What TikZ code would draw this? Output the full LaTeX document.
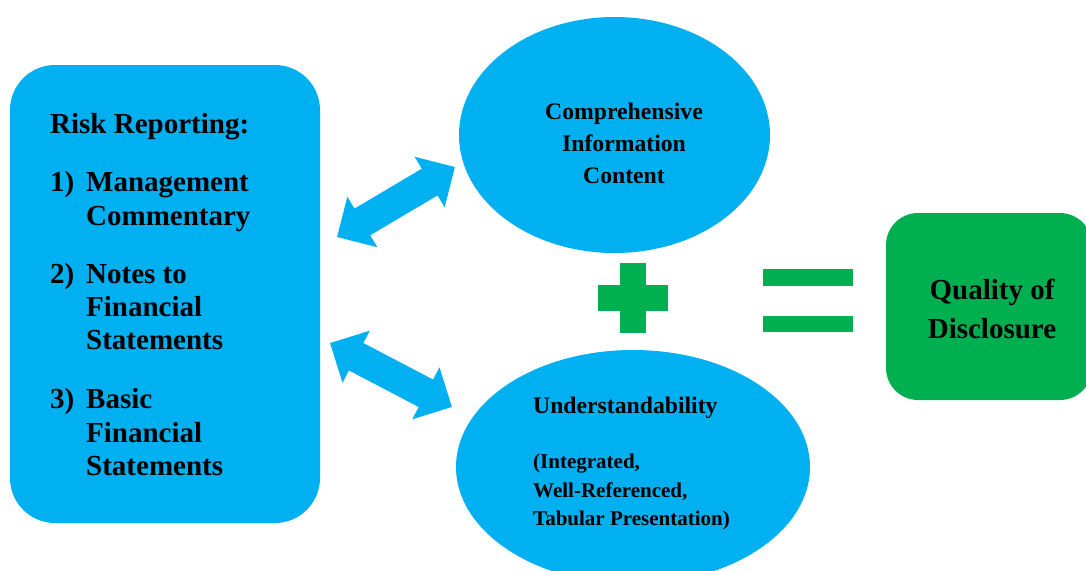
\documentclass[tikz,border=0pt]{standalone}
\usepackage{fontspec}
\setmainfont{Liberation Serif}
\usetikzlibrary{arrows.meta,shapes.geometric}
\definecolor{skyblue}{HTML}{00B0F0}
\definecolor{okgreen}{HTML}{00B050}
\begin{document}
\begin{tikzpicture}[x=1pt,y=-1pt,
  bigtxt/.style={font=\bfseries\fontsize{29}{33}\selectfont, inner sep=0pt, text=black},
  midtxt/.style={font=\bfseries\fontsize{23.7}{32}\selectfont, inner sep=0pt, text=black},
  smalltxt/.style={font=\bfseries\fontsize{21}{29}\selectfont, inner sep=0pt, text=black},
  bluebox/.style={fill=skyblue, draw=none, rounded corners=45pt, inner sep=0pt},
  greenbox/.style={fill=okgreen, draw=none, rounded corners=32pt, inner sep=0pt},
  blueell/.style={fill=skyblue, draw=none, ellipse, inner sep=0pt},
  blockarrow/.style={line width=31pt, draw=skyblue,
    {Triangle[length=29.5pt,width=57pt]}-{Triangle[length=29.5pt,width=57pt]}},
  greenbar/.style={fill=okgreen, draw=none}
]
\useasboundingbox (0,0) rectangle (1086,570);

% shapes
\node[bluebox, minimum width=310pt, minimum height=458pt] (risk) at (165,294) {};
\node[blueell, minimum width=311pt, minimum height=236pt] (comp) at (614.5,135) {};
\node[blueell, minimum width=354pt, minimum height=234pt] (under) at (633,467) {};
\node[greenbox, minimum width=206pt, minimum height=187pt] (qual) at (989,306.5) {};

% plus and equals
\fill[greenbar] (620,263) rectangle (646,333);
\fill[greenbar] (598,285) rectangle (668,311);
\fill[greenbar] (763,269) rectangle (853,286);
\fill[greenbar] (763,316) rectangle (853,332);

% arrows
\coordinate (a1l) at (337,237);
\coordinate (a1r) at (455,167);
\coordinate (a2l) at (330,343);
\coordinate (a2r) at (452,407);
\draw[blockarrow] (a1l) -- (a1r);
\draw[blockarrow] (a2l) -- (a2r);

% left box text
\node[bigtxt, anchor=base west] (t0) at (50,133) {Risk Reporting:};
\node[bigtxt, anchor=base west] (n1) at (50,191) {1)};
\node[bigtxt, anchor=base west] (t1a) at (86,191) {Management};
\node[bigtxt, anchor=base west] (t1b) at (86,225) {Commentary};
\node[bigtxt, anchor=base west] (n2) at (50,283) {2)};
\node[bigtxt, anchor=base west] (t2a) at (86,283) {Notes to};
\node[bigtxt, anchor=base west] (t2b) at (86,316) {Financial};
\node[bigtxt, anchor=base west] (t2c) at (86,349) {Statements};
\node[bigtxt, anchor=base west] (n3) at (50,408) {3)};
\node[bigtxt, anchor=base west] (t3a) at (86,408) {Basic};
\node[bigtxt, anchor=base west] (t3b) at (86,442) {Financial};
\node[bigtxt, anchor=base west] (t3c) at (86,475) {Statements};

% top ellipse text
\node[midtxt, anchor=base] (c1) at (624,119) {Comprehensive};
\node[midtxt, anchor=base] (c2) at (624,151) {Information};
\node[midtxt, anchor=base] (c3) at (624,183) {Content};

% bottom ellipse text
\node[midtxt, anchor=base west] (u1) at (533,413) {Understandability};
\node[smalltxt, anchor=base west] (u2) at (533,468) {(Integrated,};
\node[smalltxt, anchor=base west] (u3) at (533,497) {Well-Referenced,};
\node[smalltxt, anchor=base west] (u4) at (533,525) {Tabular Presentation)};

% quality text
\node[bigtxt, anchor=base] (q1) at (992,299) {Quality of};
\node[bigtxt, anchor=base] (q2) at (992,338) {Disclosure};
\end{tikzpicture}
\end{document}
